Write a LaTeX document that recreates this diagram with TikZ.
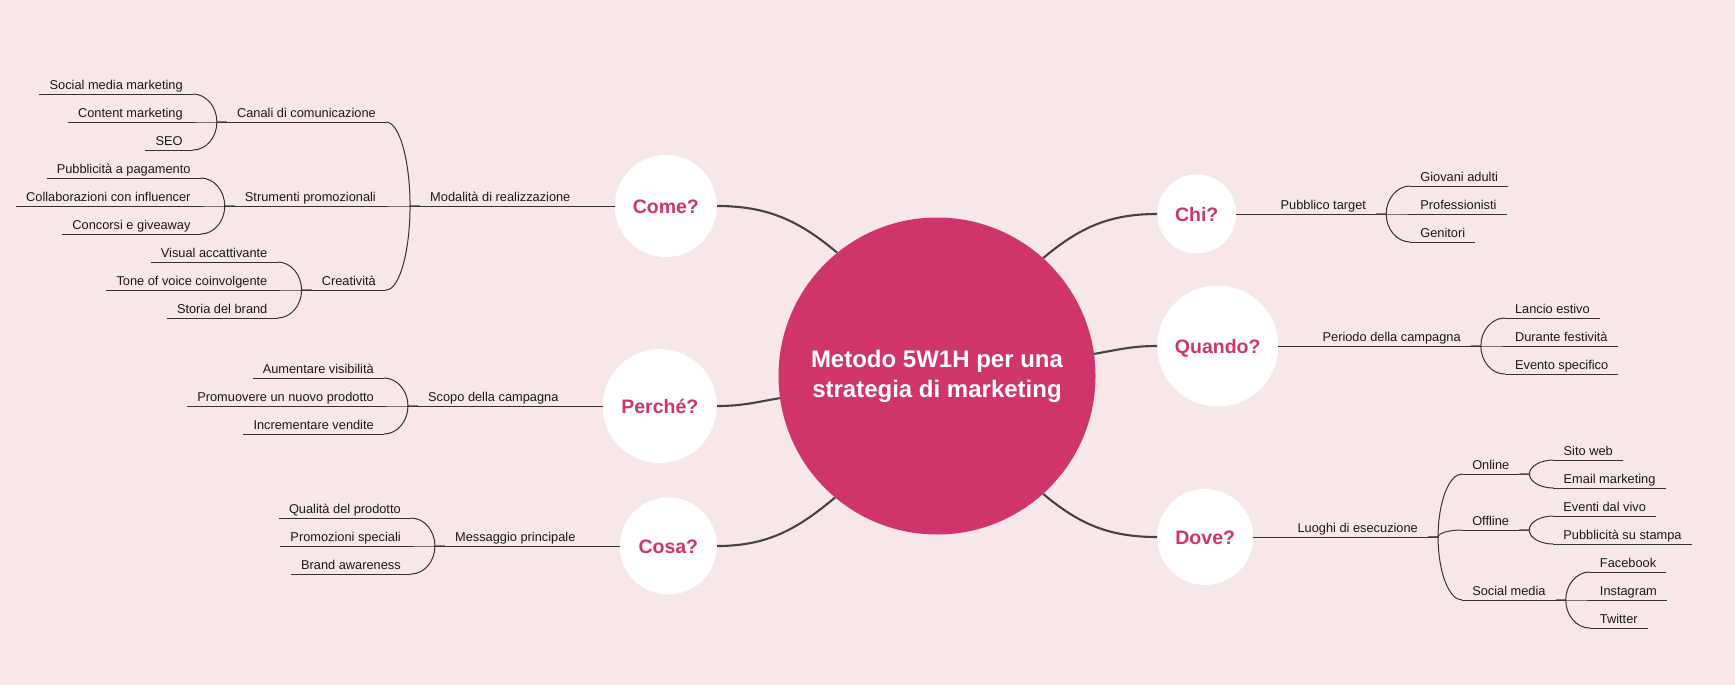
\documentclass[tikz,border=0pt]{standalone}
\usepackage{fontspec}
\setmainfont{Liberation Sans}
\usetikzlibrary{positioning, calc}
\definecolor{bgpink}{RGB}{247,231,233}
\definecolor{rose}{RGB}{207,53,106}
\definecolor{stemgray}{RGB}{68,68,68}
\definecolor{twiggray}{RGB}{51,51,51}
\tikzset{
  core/.style={circle, fill=rose, text=white, minimum size=317pt, inner sep=0pt, align=center, font=\fontsize{24}{30}\selectfont\bfseries},
  quest/.style={circle, fill=white, text=rose, inner sep=0pt, text height=14pt, text depth=0pt, font=\fontsize{19.5}{22}\selectfont\bfseries},
  topic/.style={inner xsep=10pt, inner ysep=4.3pt, text height=9.5pt, text depth=0pt, text=black!90, font=\fontsize{12.8}{15}\selectfont},
  stem/.style={draw=stemgray, line width=2.1pt},
  twig/.style={draw=twiggray, line width=1pt}
}

\begin{document}
\begin{tikzpicture}[x=1pt, y=1pt]
  \fill[bgpink] (0,0) rectangle (1735,-685);
  \useasboundingbox (0,0) rectangle (1735,-685);
  % centre and the six questions
  \node[core] (ctr) at (937,-376) {Metodo 5W1H per una\\strategia di marketing};
  \node[quest, minimum size=102pt, anchor=east] (come) at (717,-206) {Come?};
  \node[quest, minimum size=114pt, anchor=east] (perche) at (717,-406) {Perché?};
  \node[quest, minimum size=97pt, anchor=east] (cosa) at (717,-546) {Cosa?};
  \node[quest, minimum size=79pt, anchor=west] (chi) at (1157,-214) {Chi?};
  \node[quest, minimum size=121pt, anchor=west] (quando) at (1157,-346) {Quando?};
  \node[quest, minimum size=96pt, anchor=west] (dove) at (1157,-537) {Dove?};

  % Come?
  \node[topic, left=34pt of come.west, anchor=south east] (modal) {Modalità di realizzazione};
  \node[topic, above left=84pt and 34pt of modal.south west, anchor=south east] (canali) {Canali di comunicazione};
  \node[topic, left=34pt of modal.south west, anchor=south east] (strum) {Strumenti promozionali};
  \node[topic, below left=84pt and 34pt of modal.south west, anchor=south east] (creat) {Creatività};
  \node[topic, above left=28pt and 34pt of canali.south west, anchor=south east] (socmkt) {Social media marketing};
  \node[topic, left=34pt of canali.south west, anchor=south east] (content) {Content marketing};
  \node[topic, below left=28pt and 34pt of canali.south west, anchor=south east] (seo) {SEO};
  \node[topic, above left=28pt and 34pt of strum.south west, anchor=south east] (pubpag) {Pubblicità a pagamento};
  \node[topic, left=34pt of strum.south west, anchor=south east] (collab) {Collaborazioni con influencer};
  \node[topic, below left=28pt and 34pt of strum.south west, anchor=south east] (concorsi) {Concorsi e giveaway};
  \node[topic, above left=28pt and 34pt of creat.south west, anchor=south east] (visual) {Visual accattivante};
  \node[topic, left=34pt of creat.south west, anchor=south east] (tone) {Tone of voice coinvolgente};
  \node[topic, below left=28pt and 34pt of creat.south west, anchor=south east] (storia) {Storia del brand};

  % Perché?
  \node[topic, left=34pt of perche.west, anchor=south east] (scopo) {Scopo della campagna};
  \node[topic, above left=28pt and 34pt of scopo.south west, anchor=south east] (aument) {Aumentare visibilità};
  \node[topic, left=34pt of scopo.south west, anchor=south east] (promuov) {Promuovere un nuovo prodotto};
  \node[topic, below left=28pt and 34pt of scopo.south west, anchor=south east] (increm) {Incrementare vendite};

  % Cosa?
  \node[topic, left=34pt of cosa.west, anchor=south east] (msg) {Messaggio principale};
  \node[topic, above left=28pt and 34pt of msg.south west, anchor=south east] (qualita) {Qualità del prodotto};
  \node[topic, left=34pt of msg.south west, anchor=south east] (promoz) {Promozioni speciali};
  \node[topic, below left=28pt and 34pt of msg.south west, anchor=south east] (brand) {Brand awareness};

  % Chi?
  \node[topic, right=34pt of chi.east, anchor=south west] (pubtgt) {Pubblico target};
  \node[topic, above right=28pt and 34pt of pubtgt.south east, anchor=south west] (giovani) {Giovani adulti};
  \node[topic, right=34pt of pubtgt.south east, anchor=south west] (profes) {Professionisti};
  \node[topic, below right=28pt and 34pt of pubtgt.south east, anchor=south west] (genitori) {Genitori};

  % Quando?
  \node[topic, right=34pt of quando.east, anchor=south west] (periodo) {Periodo della campagna};
  \node[topic, above right=28pt and 34pt of periodo.south east, anchor=south west] (lancio) {Lancio estivo};
  \node[topic, right=34pt of periodo.south east, anchor=south west] (festiv) {Durante festività};
  \node[topic, below right=28pt and 34pt of periodo.south east, anchor=south west] (evento) {Evento specifico};

  % Dove?
  \node[topic, right=34pt of dove.east, anchor=south west] (luoghi) {Luoghi di esecuzione};
  \node[topic, above right=63pt and 34pt of luoghi.south east, anchor=south west] (online) {Online};
  \node[topic, above right=7pt and 34pt of luoghi.south east, anchor=south west] (offline) {Offline};
  \node[topic, below right=63pt and 34pt of luoghi.south east, anchor=south west] (social) {Social media};
  \node[topic, above right=14pt and 34pt of online.south east, anchor=south west] (sito) {Sito web};
  \node[topic, below right=14pt and 34pt of online.south east, anchor=south west] (email) {Email marketing};
  \node[topic, above right=14pt and 34pt of offline.south east, anchor=south west] (eventi) {Eventi dal vivo};
  \node[topic, below right=14pt and 34pt of offline.south east, anchor=south west] (stampa) {Pubblicità su stampa};
  \node[topic, above right=28pt and 34pt of social.south east, anchor=south west] (facebook) {Facebook};
  \node[topic, right=34pt of social.south east, anchor=south west] (insta) {Instagram};
  \node[topic, below right=28pt and 34pt of social.south east, anchor=south west] (twitter) {Twitter};

  % connectors from the centre
  \draw[stem] (ctr.129) to[out=140, in=0] (come.east);
  \draw[stem] (ctr.188) to[out=190, in=0] (perche.east);
  \draw[stem] (ctr.230) to[out=220, in=0] (cosa.east);
  \draw[stem] (ctr.48) to[out=40, in=180] (chi.west);
  \draw[stem] (ctr.8) to[out=10, in=180] (quando.west);
  \draw[stem] (ctr.-48) to[out=-40, in=180] (dove.west);

  \draw[twig] (come.west) -- (modal.south east);
  \draw[twig] (perche.west) -- (scopo.south east);
  \draw[twig] (cosa.west) -- (msg.south east);
  \draw[twig] (chi.east) -- (pubtgt.south west);
  \draw[twig] (quando.east) -- (periodo.south west);
  \draw[twig] (dove.east) -- (luoghi.south west);

  % junctions
  \foreach \p in {modal,canali,strum,creat,scopo,msg}
    \coordinate (j\p) at ([xshift=-10pt]\p.south west);
  \foreach \p in {pubtgt,periodo,luoghi,online,offline,social}
    \coordinate (j\p) at ([xshift=10pt]\p.south east);

  % underlines
  \foreach \n in {modal,canali,strum,creat,socmkt,content,seo,pubpag,collab,concorsi,visual,tone,storia,
                  scopo,aument,promuov,increm,msg,qualita,promoz,brand,
                  pubtgt,giovani,profes,genitori,periodo,lancio,festiv,evento,
                  luoghi,online,offline,social,sito,email,eventi,stampa,facebook,insta,twitter}
    \draw[twig] (\n.south west) -- (\n.south east);

  % branches to the left
  \foreach \p/\c in {modal/canali,modal/strum,modal/creat,canali/socmkt,canali/content,canali/seo,
                     strum/pubpag,strum/collab,strum/concorsi,creat/visual,creat/tone,creat/storia,
                     scopo/aument,scopo/promuov,scopo/increm,msg/qualita,msg/promoz,msg/brand}
    \draw[twig] (\p.south west) -- (j\p)
      .. controls ($(j\p)!0.55!(j\p |- \c.south east)$) and ($(\c.south east)!0.55!(j\p |- \c.south east)$) .. (\c.south east);

  % branches to the right
  \foreach \p/\c in {pubtgt/giovani,pubtgt/profes,pubtgt/genitori,periodo/lancio,periodo/festiv,periodo/evento,
                     luoghi/online,luoghi/offline,luoghi/social,online/sito,online/email,
                     offline/eventi,offline/stampa,social/facebook,social/insta,social/twitter}
    \draw[twig] (\p.south east) -- (j\p)
      .. controls ($(j\p)!0.55!(j\p |- \c.south west)$) and ($(\c.south west)!0.55!(j\p |- \c.south west)$) .. (\c.south west);
\end{tikzpicture}
\end{document}
